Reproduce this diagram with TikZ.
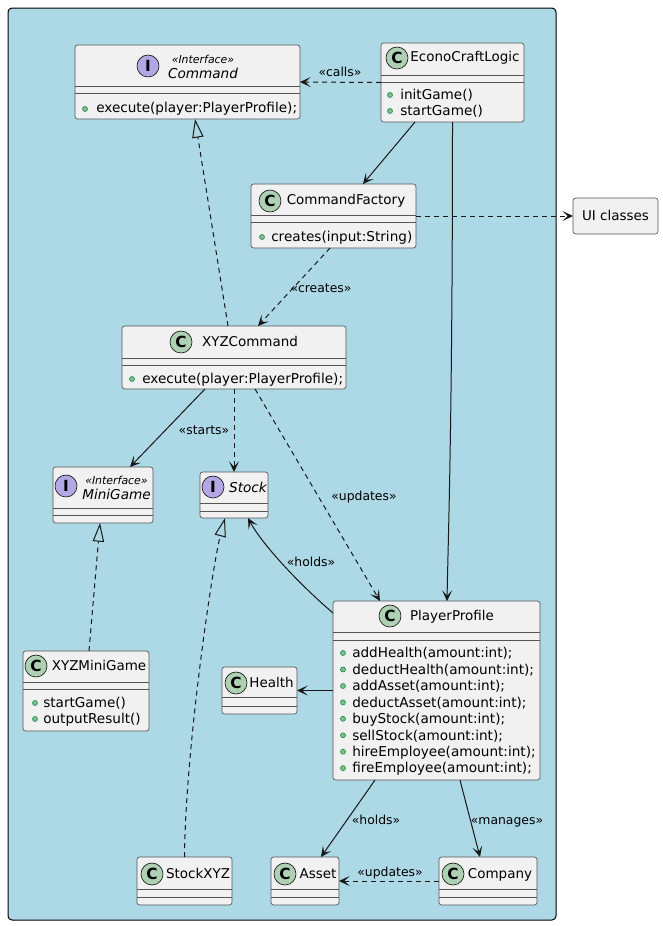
\documentclass[tikz,border=0pt]{standalone}
\usepackage{fontspec}
\setmainfont{DejaVu Sans}
\usetikzlibrary{arrows.meta,calc}
\definecolor{pkgbg}{HTML}{ADD8E6}
\definecolor{boxbg}{HTML}{F1F1F1}
\definecolor{linec}{HTML}{181818}
\definecolor{sepc}{HTML}{555555}
\definecolor{ccirc}{HTML}{ADD1B2}
\definecolor{icirc}{HTML}{B4A7E5}
\definecolor{bullf}{HTML}{84BE84}
\definecolor{bulld}{HTML}{038048}
\begin{document}
\begin{tikzpicture}[x=0.75pt,y=-0.75pt,
  cls/.style 2 args={draw=sepc, fill=boxbg, rounded corners=2pt, line width=0.5pt,
    minimum width=#1*0.75pt, minimum height=#2*0.75pt, anchor=north west, inner sep=0pt, outer sep=0pt},
  circ/.style={circle, draw=linec, line width=0.5pt, minimum size=16.5pt, inner sep=0pt,
    font=\fontsize{11.5}{12}\selectfont\bfseries},
  ccls/.style={circ, fill=ccirc},
  cint/.style={circ, fill=icirc},
  mtxt/.style={anchor=west, inner sep=0pt, font=\fontsize{10.2}{12}\selectfont, text height=0.72em, text depth=0pt},
  ttl/.style={anchor=center, inner sep=0pt, font=\fontsize{10.1}{12}\selectfont, text height=0.72em, text depth=0pt},
  ittl/.style={ttl, font=\fontsize{10.2}{12}\selectfont\itshape},
  ster/.style={ttl, font=\fontsize{8.2}{10}\selectfont\itshape},
  lbl/.style={anchor=center, inner sep=0pt, font=\fontsize{9.3}{11}\selectfont, text height=0.72em, text depth=0pt},
  sepl/.style={draw=sepc, line width=0.5pt},
  bul/.style={fill=bullf, draw=bulld, line width=0.4pt},
  arr/.style={draw=linec, line width=0.75pt, -{Stealth[length=8pt,width=7.5pt,inset=4pt]}},
  dep/.style={arr, dash pattern=on 3.75pt off 3pt},
  realize/.style={draw=linec, line width=0.75pt, dash pattern=on 3.75pt off 3pt, -{Triangle[open, length=14pt, width=8.5pt]}}
]
\useasboundingbox (0,0) rectangle (663,926);
% package background
\draw[draw=black, fill=pkgbg, line width=0.75pt, rounded corners=3pt] (8,8) rectangle (556,920);

% Command interface
\node[cls={225}{74}] (cmd) at (75,45) {};
\node[cint] (cmdI) at (148,66) {I};
\node[ster] (cmdS) at (203,59) {«Interface»};
\node[ittl] (cmdT) at (203,74) {Command};
\draw[sepl] (75,86) -- (300,86);
\draw[sepl] (75,93) -- (300,93);
\filldraw[bul] (85,109) circle (2.5);
\node[mtxt] (cmdM1) at (96,108) {execute(player:PlayerProfile);};

% EconoCraftLogic
\node[cls={143}{79}] (ecl) at (381,43) {};
\node[ccls] (eclC) at (397,58) {C};
\node[ttl] (eclT) at (465,57) {EconoCraftLogic};
\draw[sepl] (381,75) -- (524,75);
\draw[sepl] (381,82) -- (524,82);
\filldraw[bul] (390,95) circle (2.5);
\filldraw[bul] (390,111) circle (2.5);
\node[mtxt] (eclM1) at (400,95) {initGame()};
\node[mtxt] (eclM2) at (400,111) {startGame()};

% CommandFactory
\node[cls={165}{64}] (cf) at (251,184) {};
\node[ccls] (cfC) at (270,201) {C};
\node[ttl] (cfT) at (346,200) {CommandFactory};
\draw[sepl] (251,215) -- (416,215);
\draw[sepl] (251,222) -- (416,222);
\filldraw[bul] (262,237) circle (2.5);
\node[mtxt] (cfM1) at (271,237) {creates(input:String)};

% UI classes
\node[cls={85}{36}] (ui) at (573,198) {};
\node[ttl] (uiT) at (615.5,216) {UI classes};

% XYZCommand
\node[cls={224}{63}] (xyz) at (122,326) {};
\node[ccls] (xyzC) at (181,342) {C};
\node[ttl] (xyzT) at (250,342) {XYZCommand};
\draw[sepl] (122,358) -- (346,358);
\draw[sepl] (122,365) -- (346,365);
\filldraw[bul] (132,379) circle (2.5);
\node[mtxt] (xyzM1) at (142,379) {execute(player:PlayerProfile);};

% MiniGame interface
\node[cls={100}{56}] (mg) at (53,467) {};
\node[cint] (mgI) at (66,486) {I};
\node[ster] (mgS) at (116.5,480) {«Interface»};
\node[ittl] (mgT) at (116.5,495) {MiniGame};
\draw[sepl] (53,508) -- (153,508);
\draw[sepl] (53,515) -- (153,515);

% Stock interface
\node[cls={68}{46}] (stk) at (200,472) {};
\node[cint] (stkI) at (213,487) {I};
\node[ittl] (stkT) at (248,488) {Stock};
\draw[sepl] (200,503) -- (268,503);
\draw[sepl] (200,511) -- (268,511);

% PlayerProfile
\node[cls={207}{179}] (pp) at (333,601) {};
\node[ccls] (ppC) at (390,616) {C};
\node[ttl] (ppT) at (452,616) {PlayerProfile};
\draw[sepl] (333,632) -- (540,632);
\draw[sepl] (333,640) -- (540,640);
\foreach \yy/\tx [count=\i] in {653/addHealth(amount:int);, 669.5/deductHealth(amount:int);,
  686/addAsset(amount:int);, 702.4/deductAsset(amount:int);, 718.8/buyStock(amount:int);,
  735.3/sellStock(amount:int);, 751.7/hireEmployee(amount:int);, 768.1/fireEmployee(amount:int);}{
  \filldraw[bul] (343,\yy) circle (2.5);
  \node[mtxt] (ppM\i) at (352,\yy) {\tx};
}

% Health
\node[cls={75}{47}] (hl) at (222,667) {};
\node[ccls] (hlC) at (236,683) {C};
\node[ttl] (hlT) at (271.5,683) {Health};
\draw[sepl] (222,697) -- (297,697);
\draw[sepl] (222,706) -- (297,706);

% XYZMiniGame
\node[cls={126}{80}] (xmg) at (23,651) {};
\node[ccls] (xmgC) at (36,666) {C};
\node[ttl] (xmgT) at (99,666) {XYZMiniGame};
\draw[sepl] (23,682) -- (149,682);
\draw[sepl] (23,689) -- (149,689);
\filldraw[bul] (35,703) circle (2.5);
\filldraw[bul] (35,719) circle (2.5);
\node[mtxt] (xmgM1) at (43,703) {startGame()};
\node[mtxt] (xmgM2) at (43,719) {outputResult()};

% StockXYZ
\node[cls={95}{48}] (sx) at (137,857) {};
\node[ccls] (sxC) at (152,874) {C};
\node[ttl] (sxT) at (198,874) {StockXYZ};
\draw[sepl] (137,889) -- (232,889);
\draw[sepl] (137,897) -- (232,897);

% Asset
\node[cls={68}{48}] (as) at (271,857) {};
\node[ccls] (asC) at (285,874) {C};
\node[ttl] (asT) at (318,874) {Asset};
\draw[sepl] (271,889) -- (339,889);
\draw[sepl] (271,897) -- (339,897);

% Company
\node[cls={98}{48}] (co) at (439,857) {};
\node[ccls] (coC) at (453,874) {C};
\node[ttl] (coT) at (500,874) {Company};
\draw[sepl] (439,889) -- (537,889);
\draw[sepl] (439,897) -- (537,897);

% connectors
\draw[dep] (ecl.west) -- (cmd.east);
\draw[arr] ([xshift=-28.1pt]ecl.south) -- ([xshift=22.1pt]cf.north);
\draw[arr] (ecl.south) .. controls +(0,300) and +(1,-60) .. ([xshift=7.9pt]pp.north);
\draw[dep] (cf.east) -- (ui.west);
\draw[realize] ([xshift=-4.5pt]xyz.north) -- ([xshift=5.6pt]cmd.south);
\draw[dep] ([xshift=-2.6pt]cf.south) -- ([xshift=18pt]xyz.north);
\draw[arr] ([xshift=-21.75pt]xyz.south) -- ([xshift=20.25pt]mg.north);
\draw[dep] (xyz.south) -- (stk.north);
\draw[dep] ([xshift=15.75pt]xyz.south) -- ([xshift=-42.4pt]pp.north);
\draw[realize] ([xshift=2.25pt]xmg.north) -- ([xshift=-2.25pt]mg.south);
\draw[realize] (sx.north) .. controls +(1,-110) and +(-12,45) .. ([xshift=-6.75pt]stk.south);
\draw[arr] ([yshift=-9pt]pp.north west) .. controls +(-35,-30) and +(14,26) .. ([xshift=10.5pt]stk.south);
\draw[arr] (pp.west) -- (hl.east);
\draw[arr] ([xshift=-46.1pt]pp.south) -- ([xshift=12pt]as.north);
\draw[arr] ([xshift=17.6pt]pp.south) -- ([xshift=-6pt]co.north);
\draw[dep] (co.west) -- (as.east);

% connector labels
\node[lbl] (lCalls) at (340,72) {«calls»};
\node[lbl] (lCreates) at (321,288) {«creates»};
\node[lbl] (lStarts) at (204,430) {«starts»};
\node[lbl] (lUpd1) at (364,496) {«updates»};
\node[lbl] (lHolds1) at (311,562) {«holds»};
\node[lbl] (lHolds2) at (376,820) {«holds»};
\node[lbl] (lManages) at (507,820) {«manages»};
\node[lbl] (lUpd2) at (390,872) {«updates»};
\end{tikzpicture}
\end{document}
